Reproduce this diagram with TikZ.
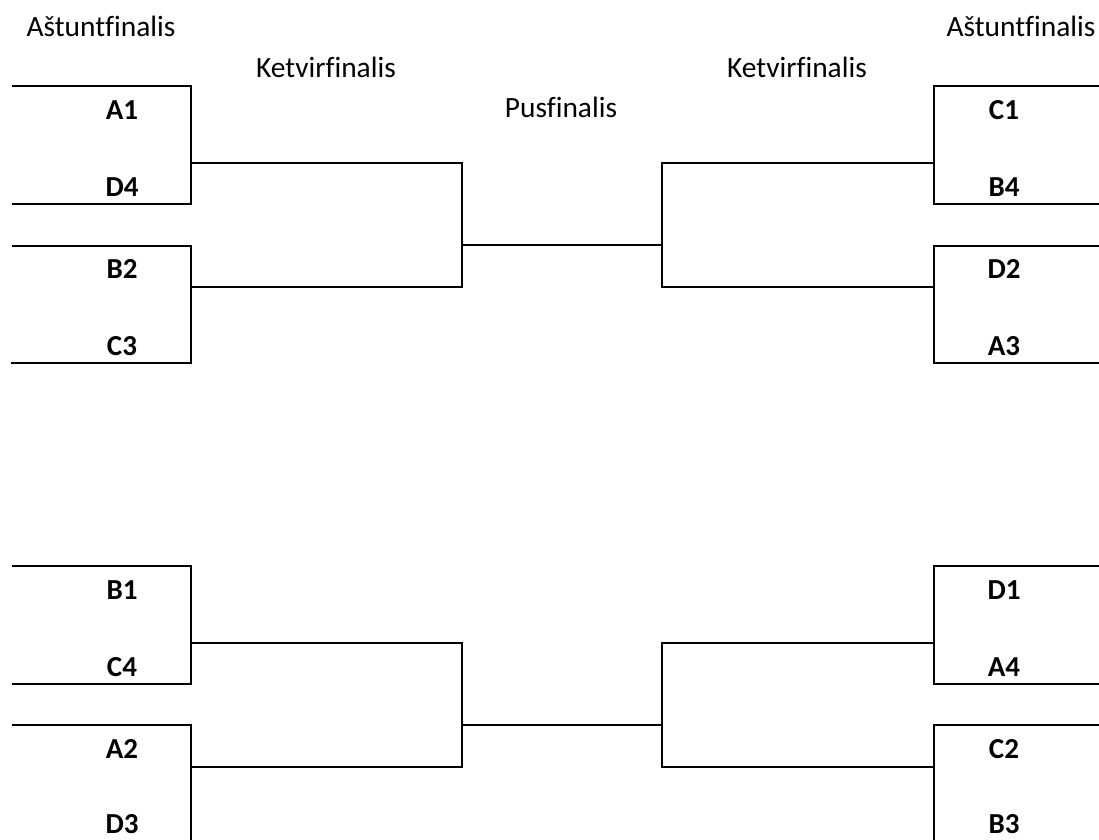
\documentclass[tikz,border=0pt]{standalone}
\usepackage{fontspec}
\setmainfont{Carlito}[Ligatures=NoCommon]
\usetikzlibrary{positioning}
\tikzset{
    team/.style={anchor=base, inner sep=0pt, font=\fontsize{29}{33}\selectfont\bfseries},
    round/.style={anchor=base, inner sep=0pt, font=\fontsize{29.4}{33}\selectfont},
    bracket/.style={line width=1.8pt}
}
\begin{document}
\begin{tikzpicture}[x=1pt, y=-1pt]
    \clip (0,0) rectangle (1099,839);

    % Round titles
    \node [round] (r16l) at (101,36) {Aštuntfinalis};
    \node [round] (r16r) at (1021,36) {Aštuntfinalis};
    \node [round] (qfl) at (326,77) {Ketvirfinalis};
    \node [round] (qfr) at (797,77) {Ketvirfinalis};
    \node [round] (sf) at (561,117) {Pusfinalis};

    % Left side, upper half
    \node [team] (A1) at (122,119) {A1};
    \node [team] (D4) at (122,196) {D4};
    \node [team] (B2) at (122,278) {B2};
    \node [team] (C3) at (122,355) {C3};
    \draw [bracket] (12,86) -- (191,86) coordinate (m1) -- (191,204) -- (12,204);
    \draw [bracket] (12,246) -- (191,246) coordinate (m2) -- (191,363) -- (11,363);
    \draw [bracket] (m1) ++(0,77) coordinate (q1) -- ++(271,0) coordinate (q1e) -- ++(0,124) coordinate (q2e) -- ++(-271,0);

    % Right side, upper half
    \node [team] (C1) at (1004,119) {C1};
    \node [team] (B4) at (1004,196) {B4};
    \node [team] (D2) at (1004,278) {D2};
    \node [team] (A3) at (1004,355) {A3};
    \draw [bracket] (1099,86) -- (934,86) coordinate (m3) -- (934,204) -- (1099,204);
    \draw [bracket] (1099,246) -- (934,246) coordinate (m4) -- (934,363) -- (1099,363);
    \draw [bracket] (m3) ++(0,77) coordinate (q3) -- ++(-272,0) coordinate (q3e) -- ++(0,124) coordinate (q4e) -- ++(272,0);

    % Semifinal link, upper half
    \draw [bracket] (q1e) ++(0,82) coordinate (s1) -- ++(200,0) coordinate (s2);

    % Left side, lower half
    \node [team] (B1) at (122,599) {B1};
    \node [team] (C4) at (122,676) {C4};
    \node [team] (A2) at (122,758) {A2};
    \node [team] (D3) at (122,833) {D3};
    \draw [bracket] (12,566) -- (191,566) coordinate (m5) -- (191,684) -- (12,684);
    \draw [bracket] (12,725) -- (191,725) coordinate (m6) -- (191,845) -- (11,845);
    \draw [bracket] (m5) ++(0,77) coordinate (q5) -- ++(271,0) coordinate (q5e) -- ++(0,124) coordinate (q6e) -- ++(-271,0);

    % Right side, lower half
    \node [team] (D1) at (1004,599) {D1};
    \node [team] (A4) at (1004,676) {A4};
    \node [team] (C2) at (1004,758) {C2};
    \node [team] (B3) at (1004,833) {B3};
    \draw [bracket] (1099,566) -- (934,566) coordinate (m7) -- (934,684) -- (1099,684);
    \draw [bracket] (1099,725) -- (934,725) coordinate (m8) -- (934,845) -- (1099,845);
    \draw [bracket] (m7) ++(0,77) coordinate (q7) -- ++(-272,0) coordinate (q7e) -- ++(0,124) coordinate (q8e) -- ++(272,0);

    % Semifinal link, lower half
    \draw [bracket] (q5e) ++(0,82) coordinate (s3) -- ++(200,0) coordinate (s4);
\end{tikzpicture}
\end{document}
